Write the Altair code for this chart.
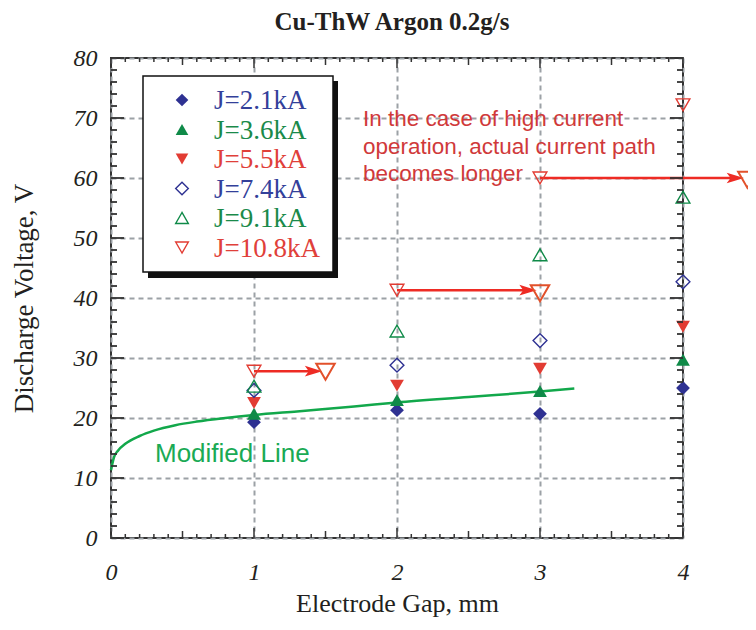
import altair as alt
import pandas as pd

# ---------------- data ----------------
title_text = "Cu-ThW Argon 0.2g/s"
x_title = "Electrode Gap, mm"
y_title = "Discharge Voltage, V"

gap_mm = [1, 2, 3, 4]
series_names = ["J=2.1kA", "J=3.6kA", "J=5.5kA", "J=7.4kA", "J=9.1kA", "J=10.8kA"]
v_21 = [19.3, 21.3, 20.7, 25.0]
v_36 = [20.7, 23.0, 24.5, 29.7]
v_55 = [22.5, 25.4, 28.2, 35.2]
v_74 = [24.6, 28.8, 32.9, 42.7]
v_91 = [25.3, 34.5, 47.2, 56.8]
v_108 = [27.8, 41.3, 60.0, 72.2]
series_values = [v_21, v_36, v_55, v_74, v_91, v_108]

curve_label = "Modified Line"
curve_x = [0, 0.02, 0.05, 0.1, 0.2, 0.3, 0.45, 0.6, 0.8, 1.0, 1.3, 1.7, 2.0, 2.5, 3.0, 3.24]
curve_y = [11.3, 13.4, 14.6, 15.7, 17.0, 17.9, 18.8, 19.4, 20.0, 20.5, 21.1, 21.9, 22.6, 23.5, 24.4, 24.9]

arrow_x0 = [1, 2, 3]
arrow_x1 = [1.5, 3, 4.45]
arrow_y = [27.8, 41.3, 60.0]
shifted_y = [27.7, 40.8, 59.7]

note_lines = ["In the case of high current",
              "operation, actual current path",
              "becomes longer"]

x_ticks = [0, 1, 2, 3, 4]
y_ticks = [0, 10, 20, 30, 40, 50, 60, 70, 80]
x_minor = [round(i * 0.1, 1) for i in range(41)]
y_minor = list(range(0, 81, 2))

# ---------------- styles ----------------
W, H = 572, 480
BLUE, GREEN, RED = "#2e3192", "#0f8a48", "#e23c33"
series_colors = [BLUE, GREEN, RED, BLUE, GREEN, RED]
text_colors = ["#33409a", "#1a8a4a", "#e0403a", "#33409a", "#1a8a4a", "#e0403a"]
series_shapes = ["diamond", "triangle-up", "triangle-down"] * 2
series_filled = [True, True, True, False, False, False]
SERIF = "Liberation Serif"
SANS = "Liberation Sans"
INK = "#231f20"

xs = alt.Scale(domain=[0, 4], nice=False, zero=False)
ys = alt.Scale(domain=[0, 80], nice=False, zero=False)
x_axis = alt.Axis(values=x_ticks, title=x_title, grid=True, gridDash=[5, 4],
                  gridColor="#9ca1a6", gridWidth=2, ticks=False, tickSize=0,
                  domain=False, labelFont=SERIF, labelFontSize=24,
                  labelFontStyle="italic", labelPadding=22, labelColor=INK,
                  labelFlush=False, titleFont=SERIF, titleFontSize=26,
                  titleFontWeight="normal", titlePadding=6, titleColor=INK)
y_axis = alt.Axis(values=y_ticks, title=y_title, grid=True, gridDash=[5, 4],
                  gridColor="#9ca1a6", gridWidth=2, ticks=False, tickSize=0,
                  domain=False, labelFont=SERIF, labelFontSize=24,
                  labelFontStyle="italic", labelPadding=14, labelColor=INK,
                  labelFlush=False, titleFont=SERIF, titleFontSize=27,
                  titleFontWeight="normal", titlePadding=35, titleColor=INK)


def X(f):
    return alt.X(f, type="quantitative", scale=xs, axis=x_axis)


def Y(f):
    return alt.Y(f, type="quantitative", scale=ys, axis=y_axis)


one = pd.DataFrame({"k": [0]})
layers = []

# curve
curve_df = pd.DataFrame({"x": curve_x, "y": curve_y})
layers.append(alt.Chart(curve_df).mark_line(color="#12a84b", strokeWidth=2.5,
                                             interpolate="monotone")
              .encode(x=X("x"), y=Y("y")))

# arrows
arr_df = pd.DataFrame({"x": arrow_x0, "x1": arrow_x1, "y": arrow_y, "ys": shifted_y})
layers.append(alt.Chart(arr_df).mark_rule(color="#ee2b24", strokeWidth=2.5, x2Offset=-14)
              .encode(x=X("x"), x2="x1", y=Y("y")))
layers.append(alt.Chart(arr_df).mark_point(shape="M-1,-0.62L1,0L-1,0.62L-0.55,0Z",
                                            filled=True, color="#ee2b24", opacity=1,
                                            size=300, xOffset=-12)
              .encode(x=X("x1"), y=Y("y")))
layers.append(alt.Chart(arr_df).mark_point(shape="triangle-down", filled=False,
                                            color="#e2512b", strokeWidth=2, size=340, opacity=1)
              .encode(x=X("x1"), y=Y("ys")))

# series points
for name, vals, col, shp, fil in zip(series_names, series_values, series_colors,
                                      series_shapes, series_filled):
    df = pd.DataFrame({"x": gap_mm, "y": vals, "series": name})
    layers.append(alt.Chart(df).mark_point(shape=shp, filled=fil, color=col, opacity=1,
                                           size=190, strokeWidth=1.4)
                  .encode(x=X("x"), y=Y("y")))

# inward ticks (axis decoration)
tick_df_x = pd.DataFrame({"t": x_minor})
tick_df_y = pd.DataFrame({"t": y_minor})
for cls, ln in [("minor", 4), ("half", 7), ("major", 10)]:
    if cls == "minor":
        dfx = tick_df_x[[round(v * 10) % 5 != 0 for v in x_minor]]
    elif cls == "half":
        dfx = tick_df_x[[round(v * 10) % 10 == 5 for v in x_minor]]
    else:
        dfx = tick_df_x[[round(v * 10) % 10 == 0 for v in x_minor]]
    for y0, y1 in [(H, H - ln), (0, ln)]:
        layers.append(alt.Chart(dfx).mark_rule(color="#333", strokeWidth=1.5)
                      .encode(x=X("t"), y=alt.value(y0), y2=alt.value(y1)))
for cls, ln in [("minor", 6), ("major", 13)]:
    if cls == "minor":
        dfy = tick_df_y[[v % 10 != 0 for v in y_minor]]
    else:
        dfy = tick_df_y[[v % 10 == 0 for v in y_minor]]
    for x0, x1 in [(0, ln), (W, W - ln)]:
        layers.append(alt.Chart(dfy).mark_rule(color="#333", strokeWidth=1.8)
                      .encode(y=Y("t"), x=alt.value(x0), x2=alt.value(x1)))

# legend box
layers.append(alt.Chart(one).mark_rect(color="#111")
              .encode(x=alt.value(37), x2=alt.value(227), y=alt.value(23), y2=alt.value(220)))
layers.append(alt.Chart(one).mark_rect(fill="white", stroke="#111", strokeWidth=1.5)
              .encode(x=alt.value(32), x2=alt.value(222), y=alt.value(18), y2=alt.value(214)))
for i, (name, col, tcol, shp, fil) in enumerate(zip(series_names, series_colors, text_colors,
                                                     series_shapes, series_filled)):
    py = 42 + 29.5 * i
    layers.append(alt.Chart(one).mark_point(shape=shp, filled=fil, color=col, opacity=1,
                                            size=160, strokeWidth=1.4)
                  .encode(x=alt.value(71), y=alt.value(py)))
    layers.append(alt.Chart(one).mark_text(text=name, align="left", baseline="middle",
                                           font=SERIF, fontSize=27, color=tcol)
                  .encode(x=alt.value(103), y=alt.value(py + 1)))

# annotations
for i, line in enumerate(note_lines):
    layers.append(alt.Chart(one).mark_text(text=line, align="left", baseline="middle",
                                           font=SANS, fontSize=22.5, color="#d0393a")
                  .encode(x=alt.value(252), y=alt.value(61 + 27.5 * i)))
layers.append(alt.Chart(one).mark_text(text=curve_label, align="left", baseline="middle",
                                       font=SANS, fontSize=26, color="#1aaa55")
              .encode(x=alt.value(44), y=alt.value(396)))

# title
layers.append(alt.Chart(one).mark_text(text=title_text, align="center", baseline="middle",
                                       font=SERIF, fontSize=25, fontWeight="bold", color=INK)
              .encode(x=alt.value(281), y=alt.value(-36)))

chart = alt.layer(*layers).properties(
    width=W, height=H,
    autosize=alt.AutoSizeParams(type="none"),
    padding={"left": 103, "top": 50, "right": 65, "bottom": 80},
).configure_view(stroke="#333", strokeWidth=2)

chart.save("out.html", embed_options={"renderer": "svg", "actions": False})
